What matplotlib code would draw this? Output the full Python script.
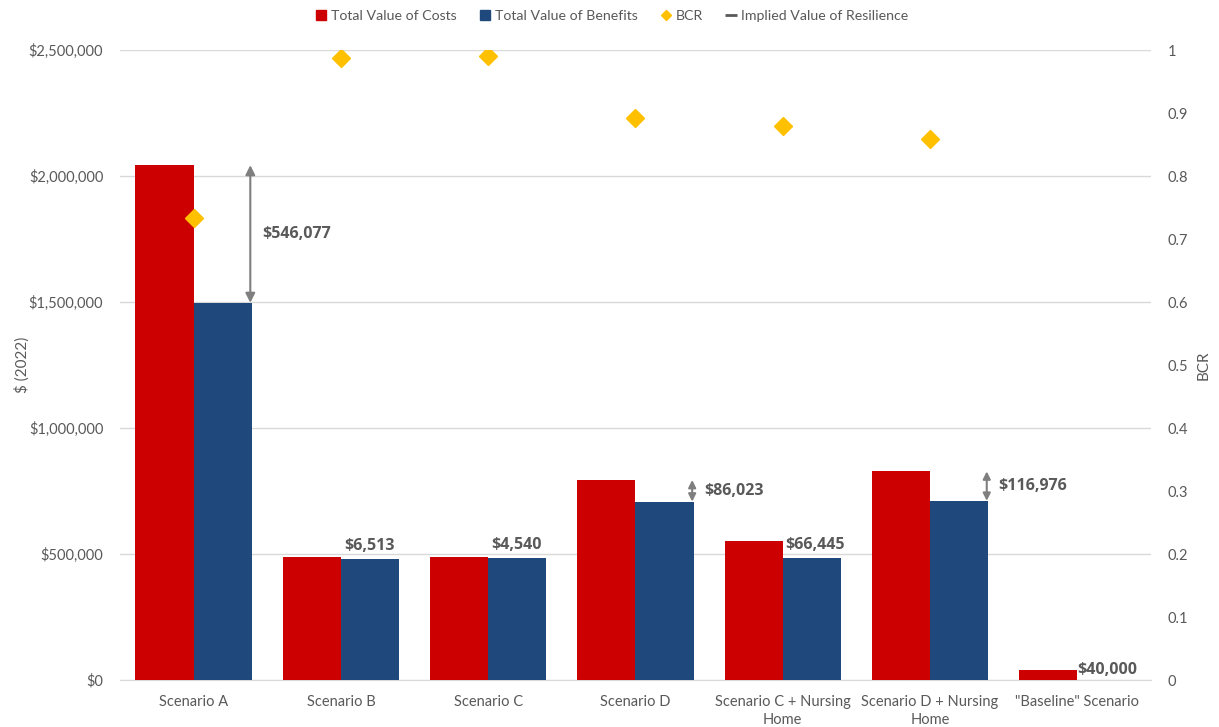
import numpy as np
import matplotlib
matplotlib.use("Agg")
import matplotlib.pyplot as plt
from matplotlib.lines import Line2D

categories = ["Scenario A", "Scenario B", "Scenario C", "Scenario D",
              "Scenario C + Nursing\nHome", "Scenario D + Nursing\nHome",
              "\"Baseline\" Scenario"]
costs = [2043000, 488500, 490000, 794000, 552000, 828000, 40000]
benefits = [1496923, 481987, 485460, 707977, 485555, 711024, 0]
bcr = [0.733, 0.987, 0.991, 0.892, 0.880, 0.859, np.nan]
resilience = [546077, 6513, 4540, 86023, 66445, 116976, None]
baseline_label = 40000
y_ticks = [0, 500000, 1000000, 1500000, 2000000, 2500000]
y2_ticks = [0, 0.1, 0.2, 0.3, 0.4, 0.5, 0.6, 0.7, 0.8, 0.9, 1.0]

RED = "#CC0000"
BLUE = "#1F497D"
GOLD = "#FFC000"
TXT = "#595959"
GRID = "#D9D9D9"
ARR = "#7F7F7F"

plt.rcParams['font.family'] = ['Lato', 'DejaVu Sans']

fig = plt.figure(figsize=(12.19, 7.27), dpi=100)
ax = fig.add_axes([0.0984, 0.0646, 0.8458, 0.8666])
ax2 = ax.twinx()

x = np.arange(len(categories))
w = 0.395
ax.bar(x - w / 2, costs, width=w, color=RED, zorder=3)
ben_x = [xi for xi, b in zip(x, benefits) if b > 0]
ben_v = [b for b in benefits if b > 0]
ax.bar(np.array(ben_x) + w / 2, ben_v, width=w, color=BLUE, zorder=3)

ax.set_xlim(-0.5, len(categories) - 0.5)
ax.set_ylim(0, 2500000)
ax.set_yticks(y_ticks)
ax.set_yticklabels(["${:,.0f}".format(v) for v in y_ticks])
ax.set_xticks(x)
ax.set_xticklabels(categories, linespacing=1.3)
ax.grid(axis='y', color=GRID, linewidth=1, zorder=0)
ax.set_axisbelow(True)
for s in ["top", "right", "left"]:
    ax.spines[s].set_visible(False)
    ax2.spines[s].set_visible(False)
ax.spines["bottom"].set_color(GRID)
ax2.spines["bottom"].set_visible(False)
ax.tick_params(axis='both', length=0, colors=TXT, labelsize=10.5)
ax.tick_params(axis='y', pad=12)
ax.tick_params(axis='x', pad=11)
ax.set_ylabel("$ (2022)", color=TXT, fontsize=11, labelpad=-1)

ax2.set_ylim(0, 1.0)
ax2.set_yticks(y2_ticks)
ax2.set_yticklabels(["{:g}".format(v) for v in y2_ticks])
ax2.tick_params(axis='y', length=0, colors=TXT, labelsize=10.5, pad=12)
ax2.set_ylabel("BCR", color=TXT, fontsize=11, labelpad=6)
ax2.plot(x, bcr, linestyle='none', marker='D', markersize=9, color=GOLD, zorder=5)

lab_kw = dict(color=TXT, fontsize=11.5, fontweight='bold', family=['Open Sans', 'DejaVu Sans'])
for i, r in enumerate(resilience):
    if r is None:
        ax.text(x[i], costs[i], "${:,.0f}".format(baseline_label), ha='left', va='center', **lab_kw)
        continue
    lab = "${:,.0f}".format(r)
    if r > 80000:
        xa = x[i] + w - 0.01
        ms = 14 if r > 300000 else 11
        ax.annotate("", xy=(xa, costs[i]), xytext=(xa, benefits[i]),
                    arrowprops=dict(arrowstyle='<|-|>', color=ARR, lw=1.5,
                                    mutation_scale=ms, shrinkA=0, shrinkB=0), zorder=6)
        ax.text(xa + 0.08, (costs[i] + benefits[i]) / 2, lab, ha='left', va='center', **lab_kw)
    else:
        ax.text(x[i] + 0.02, benefits[i] + 18000, lab, ha='left', va='bottom', **lab_kw)

handles = [
    Line2D([], [], linestyle='none', marker='s', markersize=7, color=RED),
    Line2D([], [], linestyle='none', marker='s', markersize=7, color=BLUE),
    Line2D([], [], linestyle='none', marker='D', markersize=5, color=GOLD),
    Line2D([], [], linestyle='none', marker='_', markersize=9, markeredgewidth=2, color=TXT),
]
labels = ["Total Value of Costs", "Total Value of Benefits", "BCR", "Implied Value of Resilience"]
fig.legend(handles, labels, loc='center', bbox_to_anchor=(0.502, 0.978), ncol=4, frameon=False,
           fontsize=10.2, labelcolor=TXT, handletextpad=0.3, columnspacing=1.6, handlelength=0.8)

fig.savefig("out.png", dpi=100)
